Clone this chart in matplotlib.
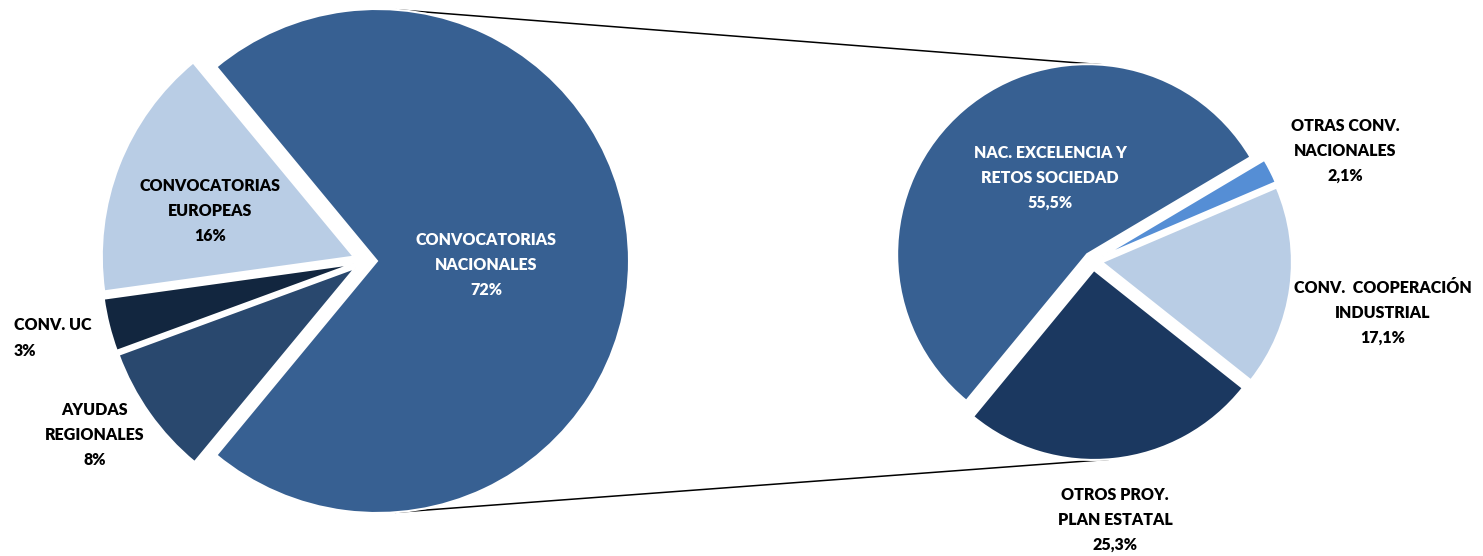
import numpy as np
import matplotlib
matplotlib.use("Agg")
import matplotlib.pyplot as plt

W, H = 1483, 556

# ---- data ----
left_labels = ["CONVOCATORIAS\nNACIONALES", "AYUDAS\nREGIONALES", "CONV. UC", "CONVOCATORIAS\nEUROPEAS"]
left_values = [72.0, 8.4, 3.4, 16.2]
left_colors = ["#376092", "#29486E", "#12263F", "#B9CDE5"]

right_labels = ["NAC. EXCELENCIA Y\nRETOS SOCIEDAD", "OTRAS CONV.\nNACIONALES",
                "CONV.  COOPERACIÓN\nINDUSTRIAL", "OTROS PROY.\nPLAN ESTATAL"]
right_values = [55.5, 2.1, 17.1, 25.3]
right_colors = ["#376092", "#558ED5", "#B9CDE5", "#1B3860"]

plt.rcParams['font.family'] = ['Lato', 'DejaVu Sans']
fig = plt.figure(figsize=(W / 100, H / 100), dpi=100)
ax = fig.add_axes([0, 0, 1, 1])

def py(y):
    return H - y

wl, _ = ax.pie(left_values, colors=left_colors, startangle=129.6, counterclock=False,
               center=(365, py(261)), radius=252, explode=[12] * 4,
               wedgeprops=dict(edgecolor='white', linewidth=1.5), frame=True)
wr, _ = ax.pie(right_values, colors=right_colors, startangle=230.5, counterclock=False,
               center=(1093, py(261)), radius=190, explode=[9] * 4,
               wedgeprops=dict(edgecolor='white', linewidth=1.5), frame=True)
ax.set_xlim(0, W)
ax.set_ylim(0, H)
ax.set_aspect('equal')
ax.axis('off')

# connector lines: external tangents between the split slice and the second pie
def tangent(c1, r1, c2, r2, upper=True):
    c1 = np.array(c1); c2 = np.array(c2)
    d = c2 - c1
    L = np.hypot(*d)
    phi = np.arctan2(d[1], d[0])
    beta = np.arccos((r1 - r2) / L)
    a = phi + beta if upper else phi - beta
    n = np.array([np.cos(a), np.sin(a)])
    return c1 + r1 * n, c2 + r2 * n

big = wl[0]
for w2, up in [(wr[0], True), (wr[3], False)]:
    p1, p2 = tangent(big.center, big.r, w2.center, w2.r, up)
    ax.plot([p1[0], p2[0]], [p1[1], p2[1]], color='black', lw=1.1, zorder=0)

fs = 11.5
ls = 1.7
def lab(x, y, txt, color='black', ha='center'):
    ax.text(x, py(y), txt, ha=ha, va='center', fontsize=fs, fontweight='heavy',
            color=color, linespacing=ls, multialignment=ha)

pct = lambda v: f"{v:.0f}%"
pct1 = lambda v: f"{v:.1f}%".replace('.', ',')

lab(486, 265, left_labels[0] + "\n" + pct(left_values[0]), color='white')
lab(210, 211, left_labels[3] + "\n" + pct(left_values[3]))
lab(14, 338, left_labels[2] + "\n" + pct(left_values[2]), ha='left')
lab(95, 435, left_labels[1] + "\n" + pct(left_values[1]))

lab(1050, 178, right_labels[0] + "\n" + pct1(right_values[0]), color='white')
lab(1345, 151, right_labels[1] + "\n" + pct1(right_values[1]))
lab(1383, 313, right_labels[2] + "\n" + pct1(right_values[2]))
lab(1115, 520, right_labels[3] + "\n" + pct1(right_values[3]))

fig.savefig("out.png", dpi=100)
